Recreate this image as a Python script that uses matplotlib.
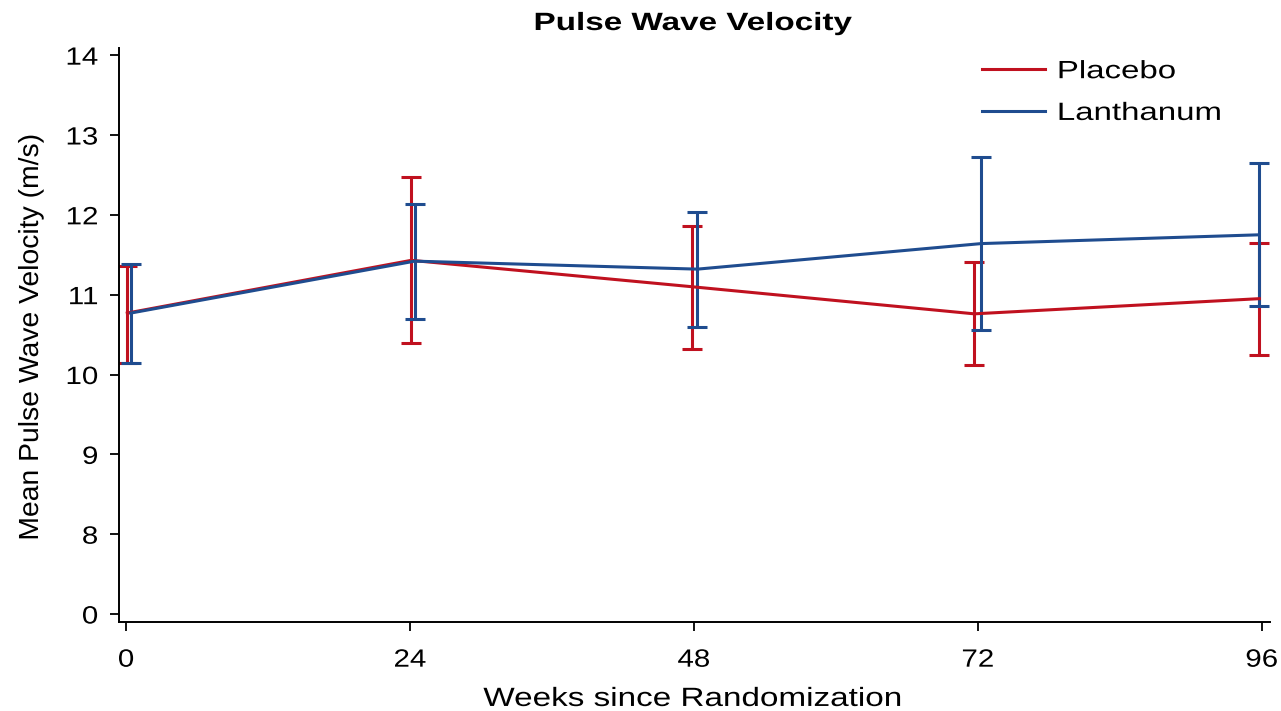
import matplotlib.pyplot as plt
import matplotlib.patheffects as pe
from matplotlib.transforms import Affine2D
import numpy as np

plt.rcParams['font.family'] = ['Liberation Sans', 'DejaVu Sans']

weeks = [0, 24, 48, 72, 96]
x_placebo = [0.1, 24.1, 47.8, 71.7, 95.8]
x_lanth = [0.4, 24.4, 48.3, 72.3, 95.8]

placebo_mean = [10.77, 11.43, 11.10, 10.76, 10.95]
placebo_lo = [10.14, 10.40, 10.32, 10.12, 10.25]
placebo_hi = [11.36, 12.48, 11.86, 11.41, 11.65]

lanth_mean = [10.77, 11.42, 11.32, 11.64, 11.75]
lanth_lo = [10.14, 10.70, 10.60, 10.56, 10.86]
lanth_hi = [11.38, 12.14, 12.04, 12.72, 12.65]

# broken axis: bottom tick stands for 0
ytick_pos = [7, 8, 9, 10, 11, 12, 13, 14]
ytick_lab = ['0', '8', '9', '10', '11', '12', '13', '14']

red = '#C0111F'
blue = '#1F4C8F'


class Stretch(pe.AbstractPathEffect):
    """draw text wider than the font gives (reference uses a wide face)"""
    def __init__(self, sx, sy=1.0, pivot='center'):
        super().__init__()
        self.sx, self.sy, self.pivot = sx, sy, pivot

    def draw_path(self, renderer, gc, tpath, affine, rgbFace=None):
        ext = tpath.get_extents()
        cx = {'center': (ext.x0 + ext.x1) / 2, 'left': ext.x0, 'right': ext.x1}[self.pivot]
        t = Affine2D().translate(-cx, 0).scale(self.sx, self.sy).translate(cx, 0) + affine
        renderer.draw_path(gc, tpath, t, rgbFace)


fig = plt.figure(figsize=(12.81, 7.11), dpi=100)
ax = fig.add_axes([0.0929, 0.1252, 0.8985, 0.8073])

pm = np.array(placebo_mean)
lm = np.array(lanth_mean)
ax.errorbar(x_placebo, pm, yerr=[pm - np.array(placebo_lo), np.array(placebo_hi) - pm],
            color=red, lw=2.2, elinewidth=2.2, capsize=7, capthick=2.2, label='Placebo')
ax.errorbar(x_lanth, lm, yerr=[lm - np.array(lanth_lo), np.array(lanth_hi) - lm],
            color=blue, lw=2.2, elinewidth=2.2, capsize=7, capthick=2.2, label='Lanthanum')

ax.set_xlim(-0.6, 96.7)
ax.set_ylim(6.9, 14.09)
ax.set_xticks(weeks)
ax.set_yticks(ytick_pos)
ax.set_yticklabels(ytick_lab)
ax.tick_params(labelsize=18, length=6.5, width=1.3, direction='out')
ax.tick_params(axis='y', pad=8.5)
ax.tick_params(axis='x', pad=12)
for s in ['top', 'right']:
    ax.spines[s].set_visible(False)
for s in ['left', 'bottom']:
    ax.spines[s].set_linewidth(1.4)

for lab in ax.get_yticklabels():
    lab.set_path_effects([Stretch(1.18, pivot='right')])
for lab in ax.get_xticklabels():
    lab.set_path_effects([Stretch(1.18)])

fig.text(0.541, 0.9578, 'Pulse Wave Velocity', fontsize=18, fontweight='bold',
         ha='center', va='baseline', path_effects=[Stretch(1.33)])

ax.set_xlabel('Weeks since Randomization', fontsize=19)
ax.xaxis.label.set_va('baseline')
ax.xaxis.set_label_coords(0.4985, -0.1463)
ax.xaxis.label.set_path_effects([Stretch(1.26)])

ax.set_ylabel('Mean Pulse Wave Velocity (m/s)', fontsize=17)
ax.yaxis.label.set_va('center')
ax.yaxis.set_label_coords(-0.0756, 0.497)
ax.yaxis.label.set_path_effects([Stretch(1.2, 1.17)])

h, l = ax.get_legend_handles_labels()
h = [hh[0] for hh in h]
leg = ax.legend(h, l, loc='upper left', frameon=False, fontsize=18, handlelength=2.5,
                handletextpad=0.52, labelspacing=0.71, borderpad=0, borderaxespad=0,
                bbox_to_anchor=(0.7498, 0.9805))
for t in leg.get_texts():
    t.set_path_effects([Stretch(1.32, pivot='left')])

fig.savefig('out.png', dpi=100)
